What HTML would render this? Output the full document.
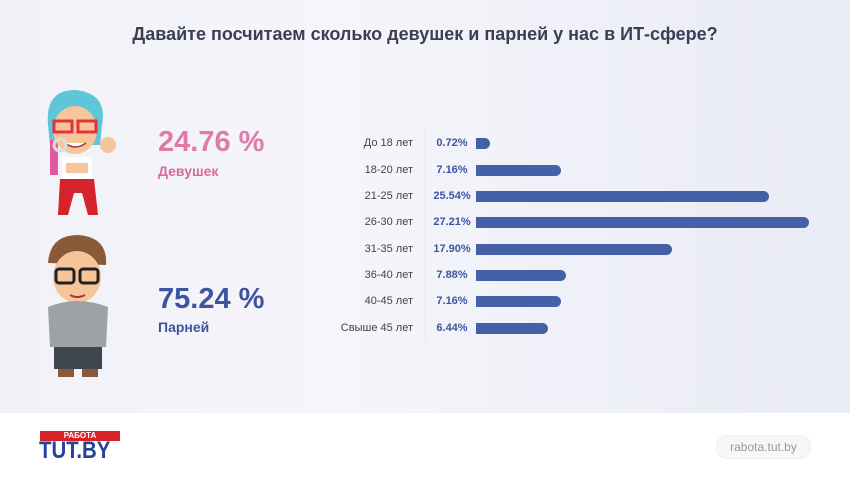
<!DOCTYPE html>
<html><head><meta charset="utf-8"><style>
body{margin:0;width:850px;height:478px;overflow:hidden;font-family:"Liberation Sans",sans-serif;background:#fff;position:relative}
.top{position:absolute;left:0;top:0;width:850px;height:413px;background:linear-gradient(90deg,#f1f2f8,#f5f5fa 40%,#e9ebf5)}
.t{position:absolute;top:24px;left:0;width:850px;text-align:center;font-size:18px;font-weight:bold;color:#3a3f55}
.lab{position:absolute;right:437px;font-size:11px;color:#444;line-height:12px}
.pc{position:absolute;left:430px;width:44px;text-align:center;font-size:11px;font-weight:bold;color:#3d54a0;line-height:12px}
.bar{position:absolute;left:476px;height:11px;background:#4560a8;border-radius:0 6px 6px 0}
.div{position:absolute;left:425px;top:128px;width:1px;height:214px;background:#e4e6ee}
.big{position:absolute;font-size:29px;font-weight:bold}
.sub{position:absolute;font-size:14px;font-weight:bold}
</style></head><body>
<div class="top"></div>
<div class="t">Давайте посчитаем сколько девушек и парней у нас в ИТ-сфере?</div>
<svg style="position:absolute;left:30px;top:85px" width="100" height="305">
<path d="M18 40 Q15 5 45 5 Q78 8 72 40 L70 60 L20 60Z" fill="#5fc6d8"/>
<rect x="20" y="55" width="8" height="35" fill="#e05aa0"/>
<ellipse cx="45" cy="45" rx="22" ry="24" fill="#f6c59a"/>
<rect x="24" y="36" width="18" height="11" fill="none" stroke="#e2333d" stroke-width="3"/>
<rect x="48" y="36" width="18" height="11" fill="none" stroke="#e2333d" stroke-width="3"/>
<path d="M35 58 Q45 66 56 58" fill="#fff" stroke="#a33" stroke-width="1.5"/>
<circle cx="30" cy="60" r="6" fill="none" stroke="#ddd" stroke-width="3"/>
<rect x="32" y="72" width="30" height="22" fill="#fff"/>
<rect x="36" y="78" width="22" height="10" fill="#f6c59a"/>
<path d="M30 94 L64 94 L68 130 L58 130 L52 108 L44 108 L38 130 L28 130Z" fill="#d6222a"/>
<circle cx="78" cy="60" r="8" fill="#f6c59a"/>
<path d="M18 178 Q20 150 48 150 Q78 152 76 180Z" fill="#8a5a38"/>
<ellipse cx="47" cy="192" rx="24" ry="26" fill="#f6c59a"/>
<rect x="26" y="184" width="18" height="14" rx="3" fill="none" stroke="#222" stroke-width="3"/>
<rect x="50" y="184" width="18" height="14" rx="3" fill="none" stroke="#222" stroke-width="3"/>
<path d="M40 210 Q47 214 55 210" stroke="#a33" stroke-width="2" fill="none"/>
<path d="M18 222 Q47 210 78 222 L76 262 L20 262Z" fill="#9ea2a6"/>
<rect x="24" y="262" width="48" height="22" fill="#3f4650"/>
<rect x="28" y="284" width="16" height="8" fill="#8a5a38"/><rect x="52" y="284" width="16" height="8" fill="#8a5a38"/>
</svg>
<div class="big" style="left:158px;top:126px;color:#e07aa8">24.76 %</div>
<div class="sub" style="left:158px;top:163px;color:#d66b9e">Девушек</div>
<div class="big" style="left:158px;top:283px;color:#3d54a0">75.24 %</div>
<div class="sub" style="left:158px;top:319px;color:#3d54a0">Парней</div>
<div class="div"></div>
<div class="lab" style="top:137px">До 18 лет</div><div class="pc" style="top:137px">0.72%</div><div class="bar" style="top:138px;width:14px"></div>
<div class="lab" style="top:164px">18-20 лет</div><div class="pc" style="top:164px">7.16%</div><div class="bar" style="top:165px;width:85px"></div>
<div class="lab" style="top:190px">21-25 лет</div><div class="pc" style="top:190px">25.54%</div><div class="bar" style="top:191px;width:293px"></div>
<div class="lab" style="top:216px">26-30 лет</div><div class="pc" style="top:216px">27.21%</div><div class="bar" style="top:217px;width:333px"></div>
<div class="lab" style="top:243px">31-35 лет</div><div class="pc" style="top:243px">17.90%</div><div class="bar" style="top:244px;width:196px"></div>
<div class="lab" style="top:269px">36-40 лет</div><div class="pc" style="top:269px">7.88%</div><div class="bar" style="top:270px;width:90px"></div>
<div class="lab" style="top:295px">40-45 лет</div><div class="pc" style="top:295px">7.16%</div><div class="bar" style="top:296px;width:85px"></div>
<div class="lab" style="top:322px">Свыше 45 лет</div><div class="pc" style="top:322px">6.44%</div><div class="bar" style="top:323px;width:72px"></div>
<div style="position:absolute;left:40px;top:431px;width:80px;height:10px;background:#d6222a;color:#fff;font-size:8px;font-weight:bold;text-align:center;line-height:10px">РАБОТА</div>
<div style="position:absolute;left:39px;top:440px;font-size:24px;font-weight:bold;color:#23449a;line-height:22px;transform:scaleX(0.85);transform-origin:left">TUT.BY</div>
<div style="position:absolute;left:716px;top:435px;width:93px;height:22px;border-radius:11px;background:#f7f7f9;border:1px solid #eee;color:#999;font-size:12px;text-align:center;line-height:22px">rabota.tut.by</div>
</body></html>
